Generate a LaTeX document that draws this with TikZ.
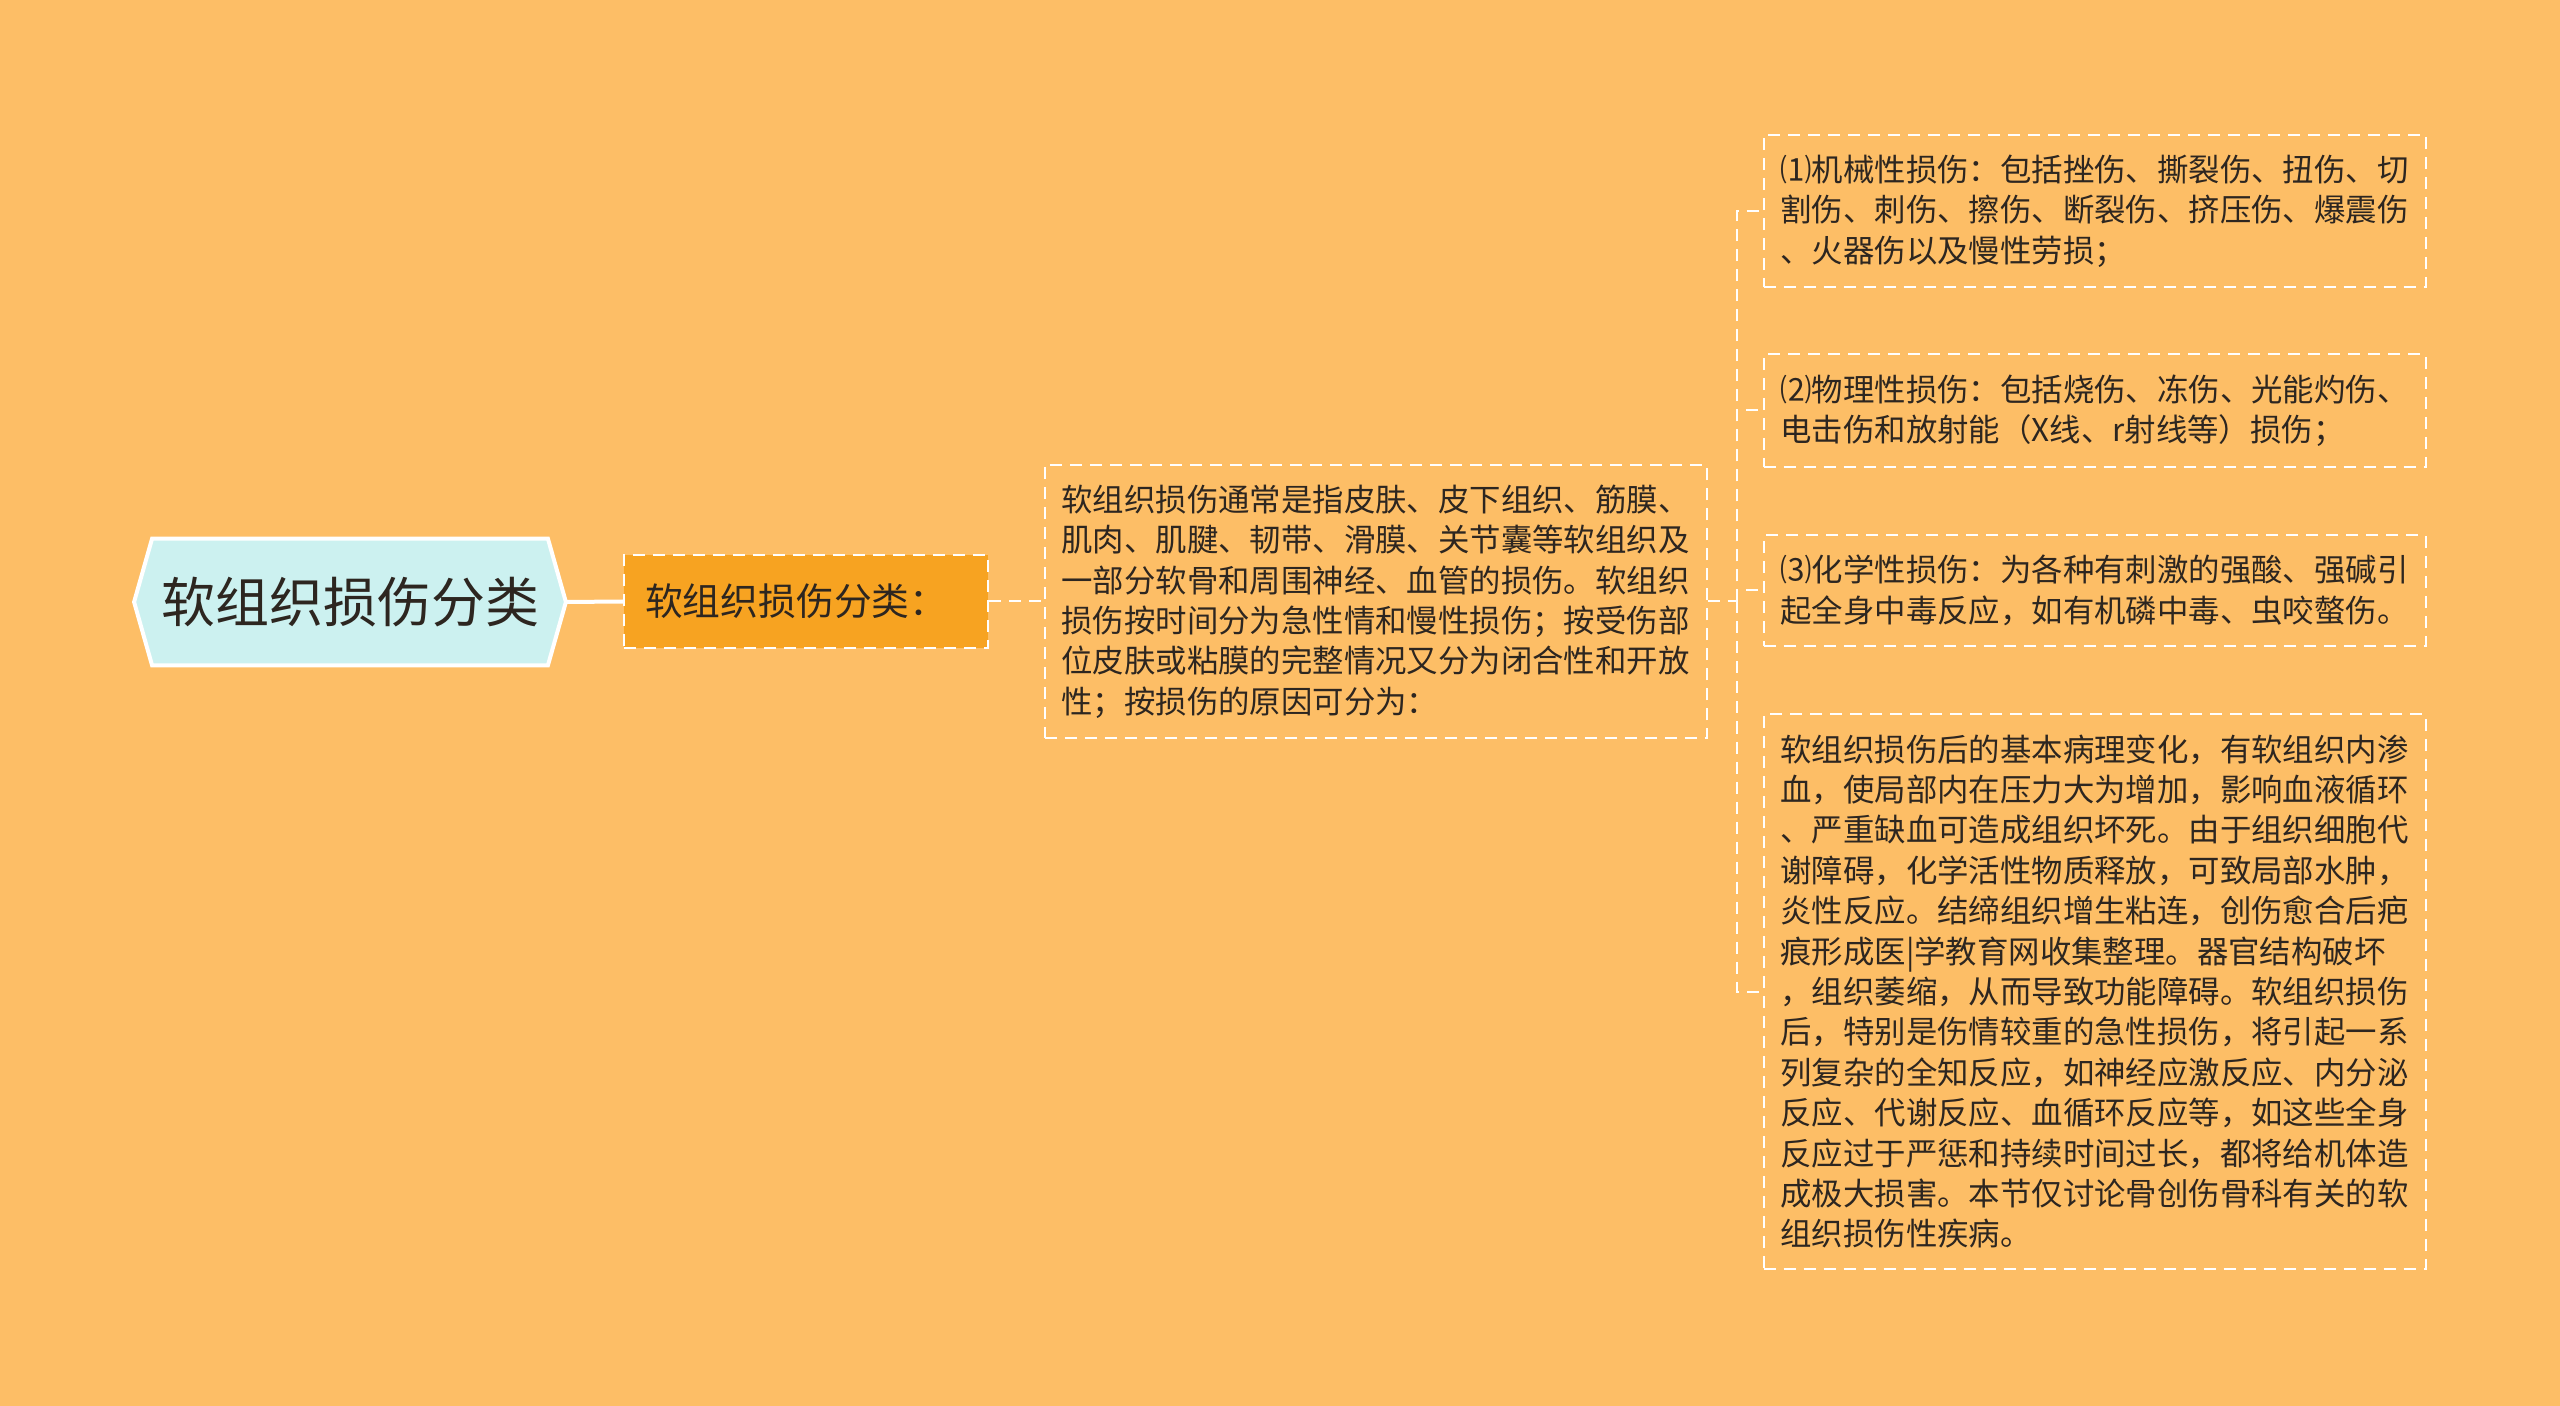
\documentclass[tikz,border=0pt]{standalone}
\usepackage{fontspec}
\setmainfont{Noto Sans CJK SC}
\usetikzlibrary{backgrounds}
\definecolor{bgorange}{RGB}{253,190,102}
\definecolor{rootcyan}{RGB}{204,241,240}
\definecolor{taborange}{RGB}{247,163,33}
\definecolor{inkgray}{RGB}{45,38,32}
\begin{document}
\begin{tikzpicture}[x=0.5pt,y=-0.5pt,
  every node/.style={text=inkgray},
  leaf/.style={draw=white,line width=1pt,dash pattern=on 6pt off 4pt,align=left,
    text width=314pt,inner xsep=8.5pt,inner ysep=10pt,
    font=\fontsize{15.7pt}{20.2pt}\selectfont},
  link/.style={white,line width=1pt,dash pattern=on 6pt off 4pt}]
\useasboundingbox (0,0) rectangle (2560,1406);
\node (root) at (350,602) [minimum width=197.5pt,minimum height=63pt,inner sep=0pt,
  font=\fontsize{27pt}{30pt}\selectfont] {软组织损伤分类};
\node (cat) at (806,601.5) [fill=taborange,draw=white,line width=1pt,dash pattern=on 6pt off 4pt,
  align=left,text width=161pt,inner xsep=10.5pt,minimum height=46.5pt,
  font=\fontsize{18.9pt}{22pt}\selectfont] {软组织损伤分类：};
\node (intro) at (1375.5,601.5) [leaf] {软组织损伤通常是指皮肤、皮下组织、筋膜、\\
肌肉、肌腱、韧带、滑膜、关节囊等软组织及\\
一部分软骨和周围神经、血管的损伤。软组织\\
损伤按时间分为急性情和慢性损伤；按受伤部\\
位皮肤或粘膜的完整情况又分为闭合性和开放\\
性；按损伤的原因可分为：};
\node (mech) at (2094.5,211) [leaf] {⑴机械性损伤：包括挫伤、撕裂伤、扭伤、切\\
割伤、刺伤、擦伤、断裂伤、挤压伤、爆震伤\\
、火器伤以及慢性劳损；};
\node (phys) at (2094.5,410.5) [leaf] {⑵物理性损伤：包括烧伤、冻伤、光能灼伤、\\
电击伤和放射能（X线、r射线等）损伤；};
\node (chem) at (2094.5,590.5) [leaf] {⑶化学性损伤：为各种有刺激的强酸、强碱引\\
起全身中毒反应，如有机磷中毒、虫咬螫伤。};
\node (path) at (2094.5,991.5) [leaf] {软组织损伤后的基本病理变化，有软组织内渗\\
血，使局部内在压力大为增加，影响血液循环\\
、严重缺血可造成组织坏死。由于组织细胞代\\
谢障碍，化学活性物质释放，可致局部水肿，\\
炎性反应。结缔组织增生粘连，创伤愈合后疤\\
痕形成医|学教育网收集整理。器官结构破坏\\
，组织萎缩，从而导致功能障碍。软组织损伤\\
后，特别是伤情较重的急性损伤，将引起一系\\
列复杂的全知反应，如神经应激反应、内分泌\\
反应、代谢反应、血循环反应等，如这些全身\\
反应过于严惩和持续时间过长，都将给机体造\\
成极大损害。本节仅讨论骨创伤骨科有关的软\\
组织损伤性疾病。};
\coordinate (bus) at (1737,601.5);
\draw[white,line width=2pt] ([xshift=9pt]root.east) -- (cat.west);
\draw[link] (cat.east) -- (intro.west);
\draw[link] (intro.east) -- (bus);
\foreach \leafname in {mech,phys,chem,path}
  \draw[link] (bus) |- (\leafname.west);
\begin{scope}[on background layer]
\fill[bgorange] (0,0) rectangle (2560,1406);
\filldraw[fill=rootcyan,draw=white,line width=2pt] (root.north west) -- (root.north east)
  -- ([xshift=9pt]root.east) -- (root.south east) -- (root.south west)
  -- ([xshift=-9pt]root.west) -- cycle;
\end{scope}
\end{tikzpicture}
\end{document}
